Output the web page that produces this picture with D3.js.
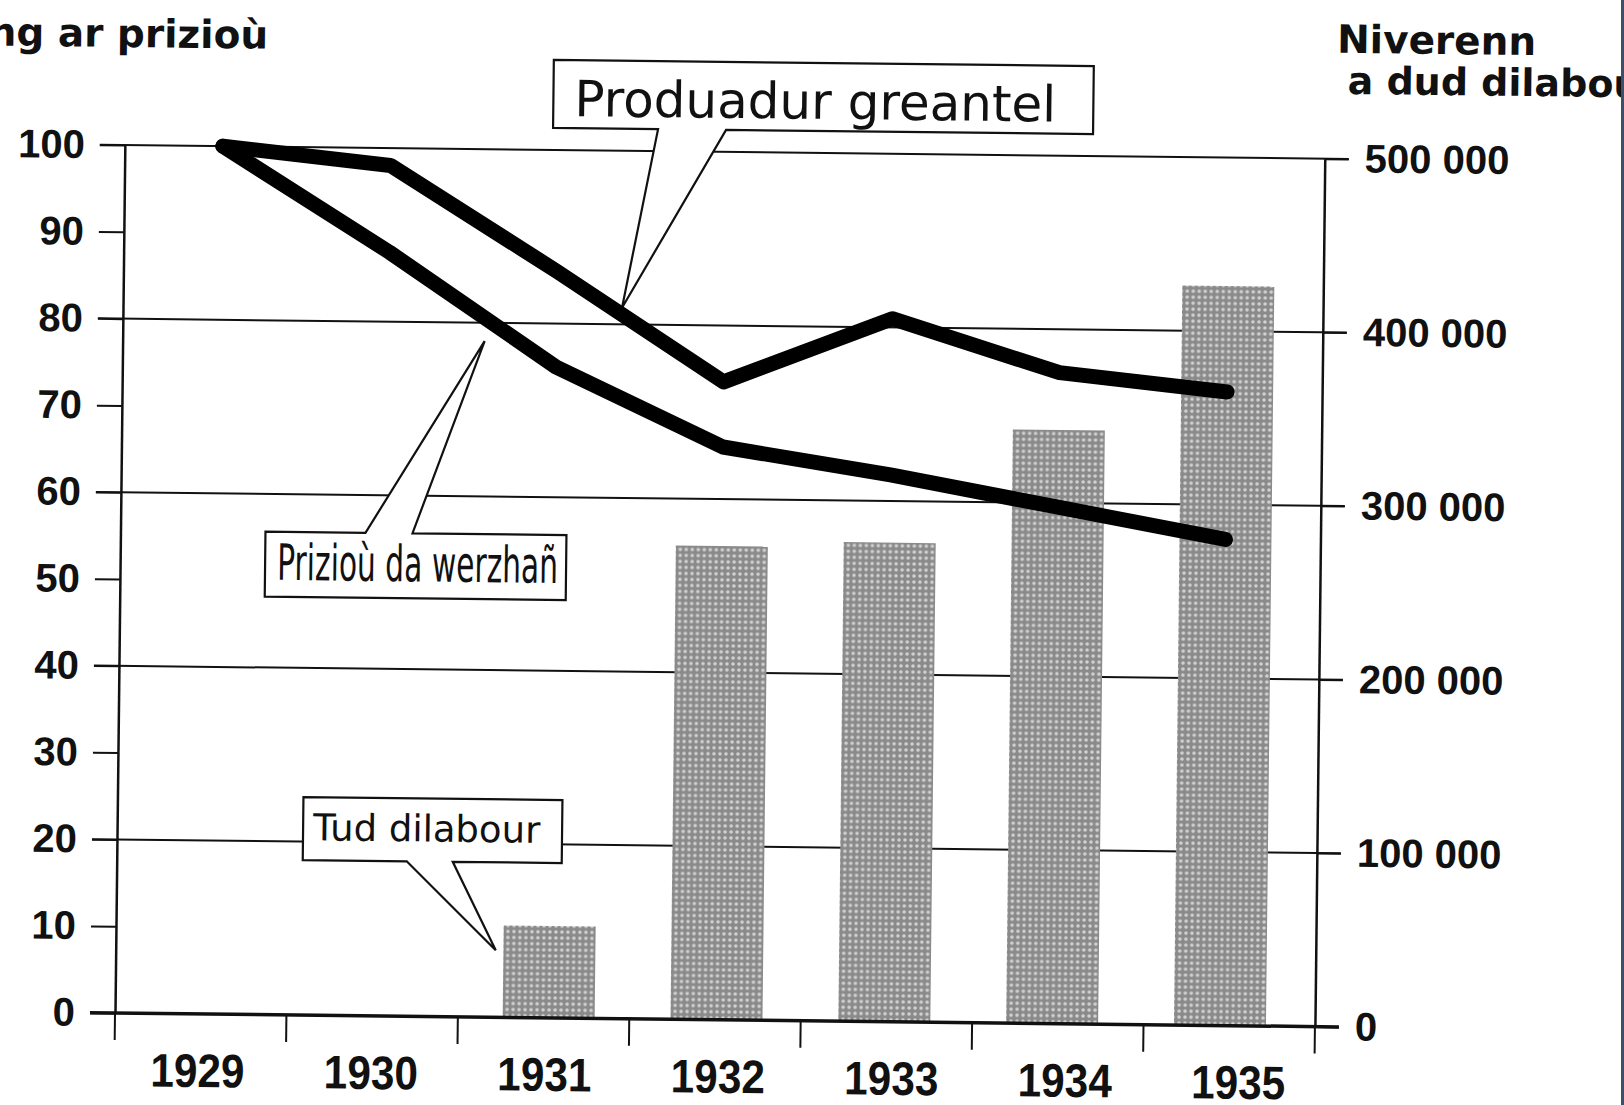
<!DOCTYPE html>
<html>
<head>
<meta charset="utf-8">
<script src="https://cdn.jsdelivr.net/npm/d3@7"></script>
<style>
    body { margin: 0; background: #fff; }
    svg { display: block; }
    .axis text { font-family: 'Liberation Sans', Arial, sans-serif; font-weight: bold; fill: #111; }
    .axis line, .axis path { stroke: #111; }
</style>
</head>
<body>
<svg></svg>
<script>
let years = ['1929', '1930', '1931', '1932', '1933', '1934', '1935']
let production = [100, 98, 86, 73.5, 81, 75, 73]
let prices = [100, 88, 75, 66, 63, 59.5, 56]
let unemployed = [null, null, 53000, 273000, 276000, 342000, 426000]
let leftTicks = [0, 10, 20, 30, 40, 50, 60, 70, 80, 90, 100]
let gridTicks = [20, 40, 60, 80, 100]
let rightTicks = [0, 100000, 200000, 300000, 400000, 500000]

let width = 1624
let height = 1105
let plotLeft = 115, plotRight = 1315, plotBottom = 1013, plotTop = 145
let tilt = 0.65
let svg = d3.select('svg')
    .attr('width', width)
    .attr('height', height)

// the scan is a bit crooked, so everything sits in one rotated group
let g = svg.append('g')
    .attr('transform', `rotate(${tilt}, ${plotLeft}, ${plotBottom})`)

// ticks sit on the band edges; the drawn points and bars are a touch narrower than the ticks
let x = d3.scaleBand().domain(years).range([plotLeft, plotRight])
let xData = d3.scalePoint().domain(years).range([213, 1220])
let xLabel = d3.scalePoint().domain(years).range([198, 1239])
let yL = d3.scaleLinear().domain([0, 100]).range([plotBottom, plotTop])
let yR = d3.scaleLinear().domain([0, 500000]).range([plotBottom, plotTop])

let defs = svg.append('defs')
let pat = defs.append('pattern')
    .attr('id', 'dots')
    .attr('width', 6).attr('height', 6)
    .attr('patternUnits', 'userSpaceOnUse')
pat.append('rect').attr('width', 6).attr('height', 6).attr('fill', '#8a8a8a')
pat.append('circle').attr('cx', 3).attr('cy', 3).attr('r', 1.8).attr('fill', '#d2d2d2')

// gridlines
g.append('g').selectAll('line')
    .data(gridTicks).enter()
    .append('line')
    .attr('x1', plotLeft - 25).attr('x2', plotRight + 24)
    .attr('y1', d => yL(d)).attr('y2', d => yL(d))
    .attr('stroke', '#111').attr('stroke-width', 2)

// bars
let barW = 92
g.append('g').selectAll('rect')
    .data(years.map((y, i) => ({ year: y, value: unemployed[i] })).filter(d => d.value !== null))
    .enter()
    .append('rect')
    .attr('x', d => xData(d.year) - barW / 2)
    .attr('width', barW)
    .attr('y', d => yR(d.value))
    .attr('height', d => yR(0) - yR(d.value))
    .attr('fill', 'url(#dots)')

// axes
let leftAxis = g.append('g').attr('class', 'axis')
    .attr('transform', `translate(${plotLeft},0)`)
    .call(d3.axisLeft(yL).tickValues(leftTicks).tickSize(25).tickSizeOuter(0).tickPadding(15))
leftAxis.selectAll('text').style('font-size', '40px')
leftAxis.selectAll('line').attr('stroke-width', 2)
leftAxis.select('.domain').attr('stroke-width', 2.5)

let rightAxis = g.append('g').attr('class', 'axis')
    .attr('transform', `translate(${plotRight},0)`)
    .call(d3.axisRight(yR).tickValues(rightTicks).tickSize(24).tickSizeOuter(0).tickPadding(16)
        .tickFormat(d => d3.format(',')(d).replace(/,/g, ' ')))
rightAxis.selectAll('text').style('font-size', '40px')
rightAxis.selectAll('line').attr('stroke-width', 2)
rightAxis.select('.domain').attr('stroke-width', 2.5)

g.append('line')
    .attr('x1', plotLeft - 25).attr('x2', plotRight + 24)
    .attr('y1', plotBottom).attr('y2', plotBottom)
    .attr('stroke', '#111').attr('stroke-width', 3.5)

g.append('g').selectAll('line')
    .data(years.map(y => x(y)).concat([plotRight])).enter()
    .append('line')
    .attr('x1', d => d).attr('x2', d => d)
    .attr('y1', plotBottom).attr('y2', plotBottom + 27)
    .attr('stroke', '#111').attr('stroke-width', 2)

g.append('g').selectAll('text')
    .data(years).enter()
    .append('text')
    .attr('transform', d => `translate(${xLabel(d)},${plotBottom + 73}) scale(0.9,1)`)
    .attr('text-anchor', 'middle')
    .style('font-family', "'Liberation Sans', Arial, sans-serif")
    .style('font-weight', 'bold')
    .style('font-size', '47px')
    .attr('fill', '#111')
    .text(d => d)

// titles
let titleFont = "'DejaVu Sans', sans-serif"
g.append('text')
    .attr('x', 257).attr('y', 47)
    .attr('text-anchor', 'end')
    .style('font-family', titleFont).style('font-weight', 'bold').style('font-size', '39px')
    .attr('fill', '#111')
    .text('ng ar prizioù')
g.append('text')
    .attr('x', 1326).attr('y', 39)
    .style('font-family', titleFont).style('font-weight', 'bold').style('font-size', '39px')
    .attr('fill', '#111')
    .text('Niverenn')
g.append('text')
    .attr('x', 1337).attr('y', 80)
    .style('font-family', titleFont).style('font-weight', 'bold').style('font-size', '38px')
    .attr('fill', '#111')
    .text('a dud dilabour')

// callouts: a box with a pointed notch
let callouts = [
    { text: 'Produadur greantel', box: [543, 55, 1083, 123], side: 'bottom', gap: [648, 716], tip: [614, 302],
      tx: 564, ty: 111, size: 50 },
    { text: 'Prizioù da werzhañ', box: [260, 530, 561, 595], side: 'top', gap: [360, 407], tip: [477, 337],
      tx: 272, ty: 578, size: 50, len: 281 },
    { text: 'Tud dilabour', box: [301, 795, 560, 858], side: 'bottom', gap: [405, 451], tip: [495, 946],
      tx: 311, ty: 838, size: 37 }
]
let calloutPath = c => {
    let [x0, y0, x1, y1] = c.box
    let p = d3.path()
    p.moveTo(x0, y0)
    if (c.side === 'top') {
        p.lineTo(c.gap[0], y0)
        p.lineTo(c.tip[0], c.tip[1])
        p.lineTo(c.gap[1], y0)
    }
    p.lineTo(x1, y0)
    p.lineTo(x1, y1)
    if (c.side === 'bottom') {
        p.lineTo(c.gap[1], y1)
        p.lineTo(c.tip[0], c.tip[1])
        p.lineTo(c.gap[0], y1)
    }
    p.lineTo(x0, y1)
    p.closePath()
    return p.toString()
}
let co = g.append('g').selectAll('g')
    .data(callouts).enter()
    .append('g')
co.append('path')
    .attr('d', calloutPath)
    .attr('fill', '#fff')
    .attr('stroke', '#111')
    .attr('stroke-width', 2.2)
    .attr('stroke-linejoin', 'miter')
co.append('text')
    .attr('x', d => d.tx).attr('y', d => d.ty)
    .attr('textLength', d => d.len || null)
    .attr('lengthAdjust', d => d.len ? 'spacingAndGlyphs' : null)
    .style('font-family', "'DejaVu Sans', sans-serif")
    .style('font-size', d => d.size + 'px')
    .attr('fill', '#111')
    .text(d => d.text)

// the two index lines
let line = d3.line()
    .x((d, i) => xData(years[i]))
    .y(d => yL(d))
g.append('g').selectAll('path')
    .data([production, prices]).enter()
    .append('path')
    .attr('d', line)
    .attr('fill', 'none')
    .attr('stroke', '#000')
    .attr('stroke-width', 15)
    .attr('stroke-linejoin', 'round')
    .attr('stroke-linecap', 'round')

svg.append('rect')
    .attr('x', 1621).attr('y', 0)
    .attr('width', 3).attr('height', height)
    .attr('fill', '#3e4f6e')
</script>
</body>
</html>
